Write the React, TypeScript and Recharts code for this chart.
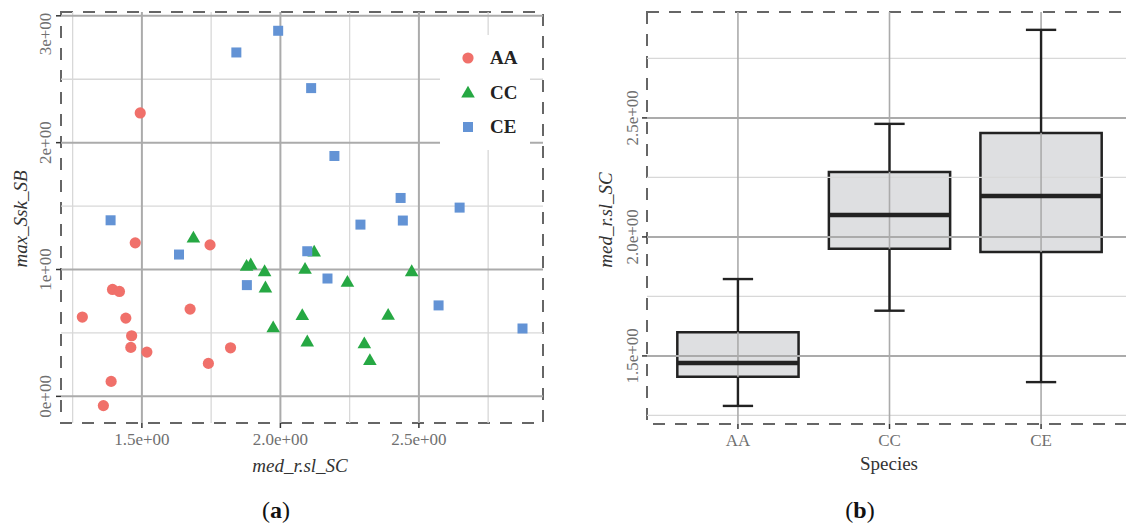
import React from "react";
import {
  ScatterChart,
  ComposedChart,
  Scatter,
  XAxis,
  YAxis,
  ReferenceLine,
  ReferenceArea,
} from "recharts";

// panel (a): med_r.sl_SC vs max_Ssk_SB, per species
const aaX = [1.494, 1.476, 1.746, 1.394, 1.419, 1.285, 1.442, 1.674, 1.463, 1.46, 1.518, 1.82, 1.74, 1.389, 1.361];
const aaY = [2.234, 1.21, 1.194, 0.843, 0.827, 0.625, 0.617, 0.688, 0.478, 0.386, 0.349, 0.383, 0.26, 0.118, -0.073];
const ccX = [1.686, 1.878, 1.893, 1.943, 1.946, 2.089, 2.122, 2.242, 2.079, 1.974, 2.097, 2.389, 2.303, 2.323, 2.474];
const ccY = [1.249, 1.026, 1.037, 0.984, 0.856, 1.003, 1.139, 0.9, 0.638, 0.541, 0.43, 0.64, 0.415, 0.283, 0.984];
const ceX = [1.992, 1.841, 2.111, 2.195, 2.434, 2.647, 2.442, 2.289, 1.387, 1.634, 2.097, 2.17, 1.879, 2.571, 2.874];
const ceY = [2.882, 2.711, 2.43, 1.895, 1.564, 1.488, 1.386, 1.354, 1.388, 1.118, 1.144, 0.929, 0.877, 0.717, 0.535];

const species = ["AA", "CC", "CE"];
const colors = ["#F0706A", "#26A843", "#6393D5"];

const aTicksX = [1.5, 2, 2.5];
const aTickLabelsX = ["1.5e+00", "2.0e+00", "2.5e+00"];
const aMinorX = [1.25, 1.75, 2.25, 2.75];
const aTicksY = [0, 1, 2, 3];
const aTickLabelsY = ["0e+00", "1e+00", "2e+00", "3e+00"];
const aMinorY = [0.5, 1.5, 2.5];
const aDomX: [number, number] = [1.208, 2.948];
const aDomY: [number, number] = [-0.21, 3.03];

// panel (b): boxplot of med_r.sl_SC by species
const boxPos = [1, 2, 3];
const boxMin = [1.29, 1.69, 1.39];
const boxQ1 = [1.412, 1.95, 1.937];
const boxMed = [1.47, 2.092, 2.172];
const boxQ3 = [1.6, 2.273, 2.437];
const boxMax = [1.823, 2.475, 2.87];

const bTicksY = [1.5, 2, 2.5];
const bTickLabelsY = ["1.5e+00", "2.0e+00", "2.5e+00"];
const bMinorY = [1.25, 1.75, 2.25, 2.75];
const bDomX: [number, number] = [0.4, 3.6];
const bDomY: [number, number] = [1.214, 2.945];

const FONT = "'Liberation Serif', 'Times New Roman', serif";
const MAJOR = "#ABABAB";
const MINOR = "#D8D8D8";
const FRAME = "#666";
const TICKTXT = "#707070";
const INK = "#222";

const zip = (xs: number[], ys: number[]) => xs.map((x, i) => ({ x, y: ys[i] }));

const shapes = [
  (p: any) => <circle cx={p.cx} cy={p.cy} r={5.6} fill={colors[0]} />,
  (p: any) => (
    <polygon
      points={`${p.cx},${p.cy - 7.2} ${p.cx - 6.8},${p.cy + 4.6} ${p.cx + 6.8},${p.cy + 4.6}`}
      fill={colors[1]}
    />
  ),
  (p: any) => <rect x={p.cx - 5} y={p.cy - 5} width={10} height={10} fill={colors[2]} />,
];

function xTick(labels: string[], ticks: number[]) {
  return (p: any) => {
    const i = ticks.indexOf(p.payload.value);
    return (
      <text x={p.x} y={p.y + 15} textAnchor="middle" fontSize={17} fill={TICKTXT} fontFamily={FONT}>
        {labels[i]}
      </text>
    );
  };
}

function yTick(labels: string[], ticks: number[], cxOff: number, minY: number) {
  return (p: any) => {
    const i = ticks.indexOf(p.payload.value);
    const cy = Math.max(p.y, minY);
    return (
      <text
        transform={`translate(${p.x - cxOff}, ${cy}) rotate(-90)`}
        textAnchor="middle"
        dy="0.35em"
        fontSize={17}
        fill={TICKTXT}
        fontFamily={FONT}
      >
        {labels[i]}
      </text>
    );
  };
}

function Legend() {
  return (
    <div
      style={{
        position: "absolute",
        left: 440,
        top: 35,
        width: 90,
        height: 115,
        background: "#fff",
      }}
    >
      {species.map((s, i) => (
        <div key={s} style={{ position: "absolute", left: 18, top: 10 + i * 34.5, height: 26, display: "flex", alignItems: "center" }}>
          <svg width={20} height={20}>
            {shapes[i]({ cx: 10, cy: 10 })}
          </svg>
          <span style={{ marginLeft: 12, fontFamily: FONT, fontWeight: 700, fontSize: 19, color: "#222" }}>{s}</span>
        </div>
      ))}
    </div>
  );
}

function Text({ x, y, rotate, size, italic, children, color }: any) {
  return (
    <div
      style={{
        position: "absolute",
        left: x,
        top: y,
        transform: `translate(-50%, -50%)${rotate ? " rotate(-90deg)" : ""}`,
        fontFamily: FONT,
        fontSize: size,
        fontStyle: italic ? "italic" : "normal",
        color: color || "#333",
        whiteSpace: "nowrap",
        lineHeight: 1,
      }}
    >
      {children}
    </div>
  );
}

export default function App() {
  return (
    <div style={{ position: "absolute", left: 0, top: 0, width: 1126, height: 528, overflow: "hidden", background: "#fff" }}>
      <div style={{ position: "absolute", left: 0, top: 0 }}>
        <ScatterChart width={560} height={528} margin={{ top: 12, right: 17, bottom: 0, left: 0 }}>
          <XAxis
            type="number"
            dataKey="x"
            domain={aDomX}
            ticks={aTicksX}
            allowDataOverflow
            height={105}
            axisLine={false}
            tickSize={5}
            tickLine={{ stroke: "#333", strokeWidth: 1.5 }}
            tick={xTick(aTickLabelsX, aTicksX)}
          />
          <YAxis
            type="number"
            dataKey="y"
            domain={aDomY}
            ticks={aTicksY}
            allowDataOverflow
            width={61}
            axisLine={false}
            tickSize={5}
            tickLine={{ stroke: "#333", strokeWidth: 1.5 }}
            tick={yTick(aTickLabelsY, aTicksY, 9, 34)}
          />
          {aMinorX.map((v) => (
            <ReferenceLine key={"mx" + v} x={v} stroke={MINOR} strokeWidth={1.3} />
          ))}
          {aMinorY.map((v) => (
            <ReferenceLine key={"my" + v} y={v} stroke={MINOR} strokeWidth={1.3} />
          ))}
          {aTicksX.map((v) => (
            <ReferenceLine key={"Mx" + v} x={v} stroke={MAJOR} strokeWidth={2} />
          ))}
          {aTicksY.map((v) => (
            <ReferenceLine key={"My" + v} y={v} stroke={MAJOR} strokeWidth={2} />
          ))}
          <ReferenceArea
            x1={aDomX[0]}
            x2={aDomX[1]}
            y1={aDomY[0]}
            y2={aDomY[1]}
            fill="none"
            fillOpacity={0}
            stroke={FRAME}
            strokeWidth={2}
            strokeDasharray="12 10"
          />
          <Scatter name="AA" data={zip(aaX, aaY)} shape={shapes[0]} isAnimationActive={false} />
          <Scatter name="CC" data={zip(ccX, ccY)} shape={shapes[1]} isAnimationActive={false} />
          <Scatter name="CE" data={zip(ceX, ceY)} shape={shapes[2]} isAnimationActive={false} />
        </ScatterChart>
      </div>
      <Legend />
      <Text x={20} y={219} rotate size={19} italic>max_Ssk_SB</Text>
      <Text x={300} y={465} size={19} italic>med_r.sl_SC</Text>
      <Text x={276} y={510} size={24} color="#111">
        (<b>a</b>)
      </Text>

      <div style={{ position: "absolute", left: 581, top: 0 }}>
        <ComposedChart width={551} height={528} margin={{ top: 12, right: 0, bottom: 0, left: 0 }}>
          <XAxis
            type="number"
            dataKey="x"
            domain={bDomX}
            ticks={boxPos}
            allowDataOverflow
            height={104}
            axisLine={false}
            tickSize={5}
            tickLine={{ stroke: "#333", strokeWidth: 1.5 }}
            tick={xTick(species, boxPos)}
          />
          <YAxis
            type="number"
            dataKey="y"
            domain={bDomY}
            ticks={bTicksY}
            allowDataOverflow
            width={66}
            axisLine={false}
            tickSize={5}
            tickLine={{ stroke: "#333", strokeWidth: 1.5 }}
            tick={yTick(bTickLabelsY, bTicksY, 8, 0)}
          />
          {bMinorY.map((v) => (
            <ReferenceLine key={"bmy" + v} y={v} stroke={MINOR} strokeWidth={1.3} />
          ))}
          {bTicksY.map((v) => (
            <ReferenceLine key={"bMy" + v} y={v} stroke={MAJOR} strokeWidth={2} />
          ))}
          {boxPos.map((v) => (
            <ReferenceLine key={"bMx" + v} x={v} stroke={MAJOR} strokeWidth={1.6} />
          ))}
          <ReferenceArea
            x1={bDomX[0]}
            x2={bDomX[1]}
            y1={bDomY[0]}
            y2={bDomY[1]}
            fill="none"
            fillOpacity={0}
            stroke={FRAME}
            strokeWidth={2}
            strokeDasharray="12 10"
          />
          {boxPos.map((p, i) => (
            <ReferenceLine key={"wu" + i} segment={[{ x: p, y: boxQ3[i] }, { x: p, y: boxMax[i] }]} stroke={INK} strokeWidth={2.4} />
          ))}
          {boxPos.map((p, i) => (
            <ReferenceLine key={"wl" + i} segment={[{ x: p, y: boxMin[i] }, { x: p, y: boxQ1[i] }]} stroke={INK} strokeWidth={2.4} />
          ))}
          {boxPos.map((p, i) => (
            <ReferenceLine key={"cu" + i} segment={[{ x: p - 0.1, y: boxMax[i] }, { x: p + 0.1, y: boxMax[i] }]} stroke={INK} strokeWidth={2.4} />
          ))}
          {boxPos.map((p, i) => (
            <ReferenceLine key={"cl" + i} segment={[{ x: p - 0.1, y: boxMin[i] }, { x: p + 0.1, y: boxMin[i] }]} stroke={INK} strokeWidth={2.4} />
          ))}
          {boxPos.map((p, i) => (
            <ReferenceArea
              key={"box" + i}
              x1={p - 0.4}
              x2={p + 0.4}
              y1={boxQ1[i]}
              y2={boxQ3[i]}
              fill="#DEDFE1"
              fillOpacity={1}
              stroke={INK}
              strokeWidth={2.5}
            />
          ))}
          {boxPos.map((p, i) => (
            <ReferenceLine key={"med" + i} segment={[{ x: p - 0.4, y: boxMed[i] }, { x: p + 0.4, y: boxMed[i] }]} stroke={INK} strokeWidth={4.6} />
          ))}
          <Scatter
            data={boxPos.map((x, i) => ({ x, y: boxMed[i] }))}
            shape={() => <g />}
            isAnimationActive={false}
          />
        </ComposedChart>
      </div>
      <Text x={605} y={220} rotate size={19} italic>med_r.sl_SC</Text>
      <Text x={889} y={463} size={19}>Species</Text>
      <Text x={860} y={510} size={24} color="#111">
        (<b>b</b>)
      </Text>
    </div>
  );
}
